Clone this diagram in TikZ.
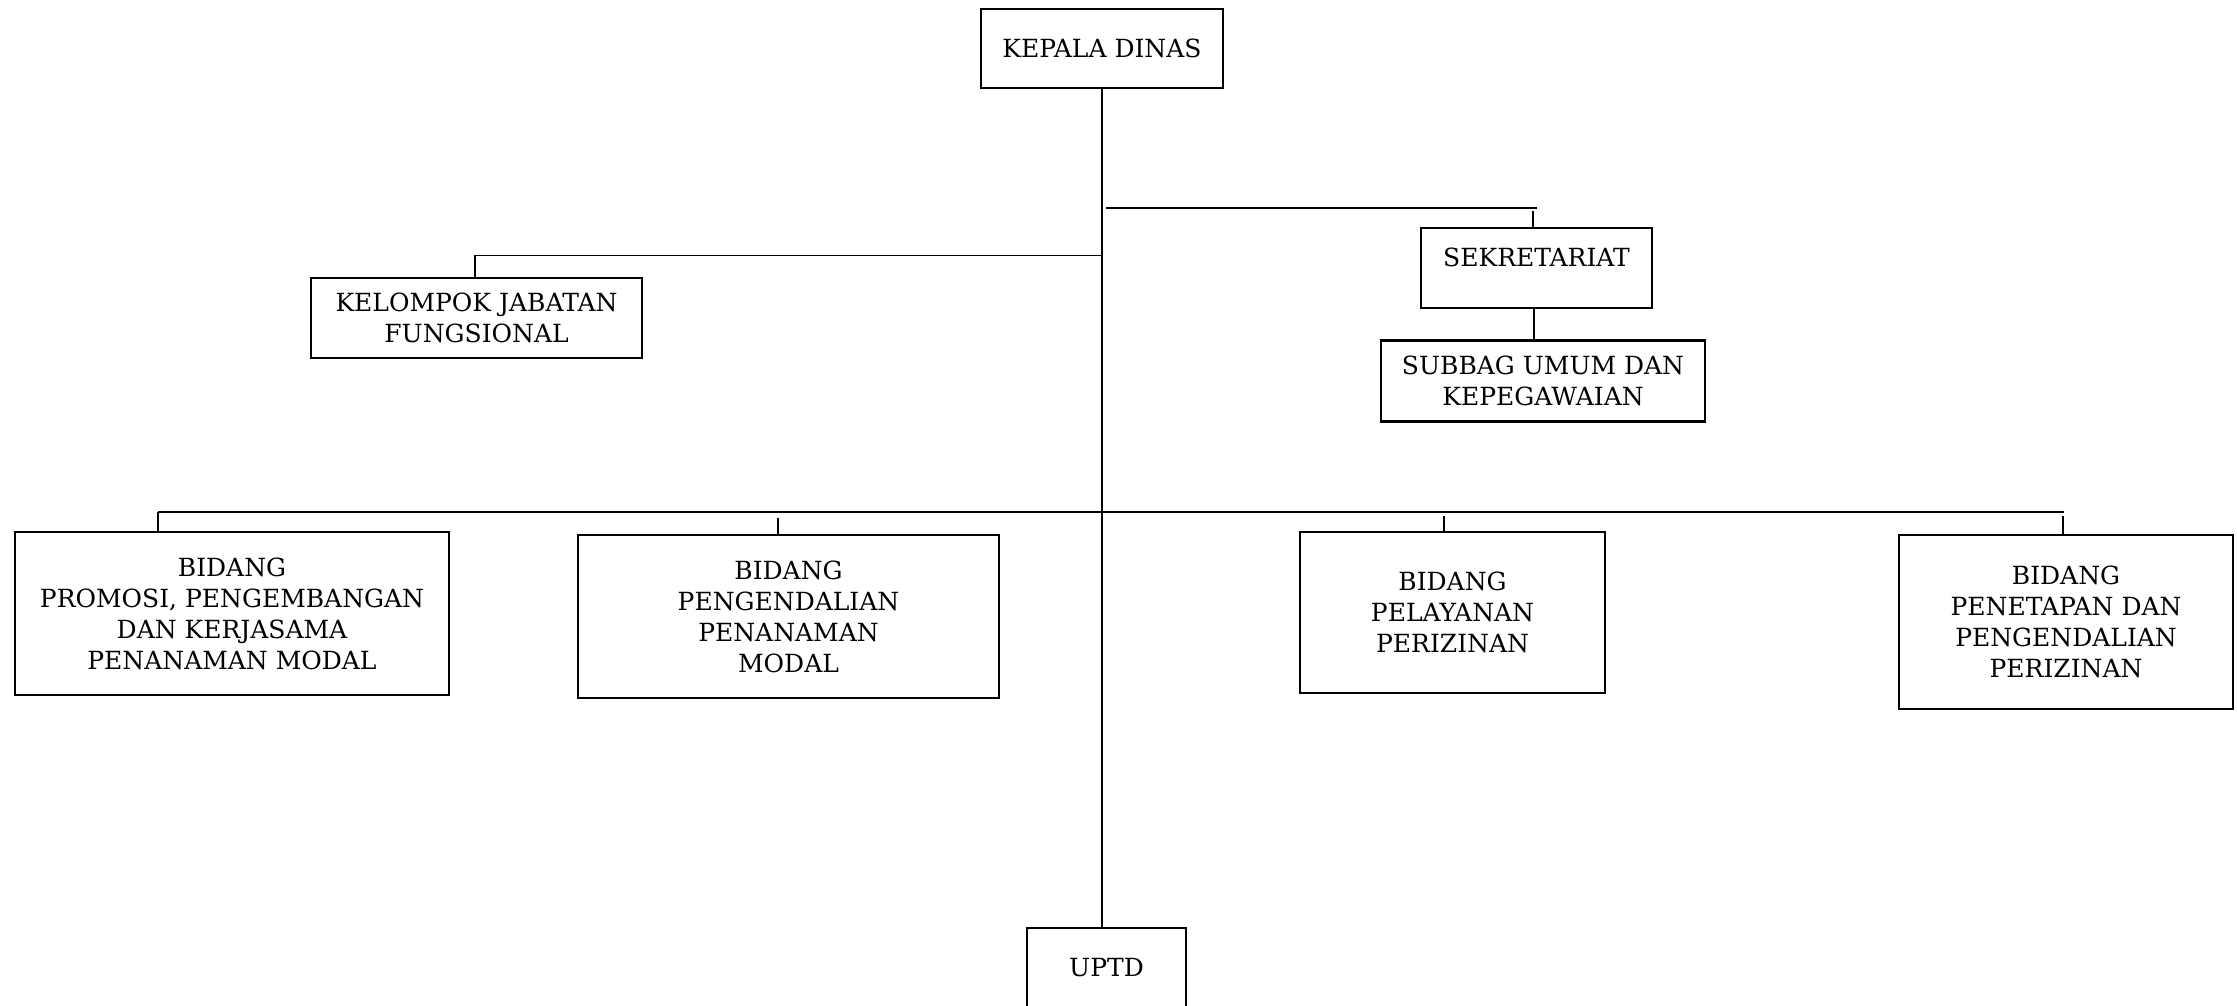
\documentclass[tikz,border=0pt]{standalone}
\usepackage{fontspec}
\setmainfont{DejaVu Serif}
\begin{document}
\begin{tikzpicture}[x=1pt,y=-1pt,
  orgbox/.style={draw,line width=2.2pt,align=center,inner sep=0pt,
    font=\fontsize{25}{31}\selectfont},
  conn/.style={line width=1.6pt},
  tick/.style={line width=1.1pt}]
\useasboundingbox[fill=white] (0,0) rectangle (2237,1006);
% boxes
\node[orgbox,minimum width=242,minimum height=79] (kd) at (1102,48.5) {KEPALA DINAS};
\node[orgbox,minimum width=231,minimum height=80,text depth=22pt] (sek) at (1536.5,268) {SEKRETARIAT};
\node[orgbox,minimum width=324,minimum height=81] (sub) at (1543,381) {SUBBAG UMUM DAN\\KEPEGAWAIAN};
\node[orgbox,minimum width=331,minimum height=80] (kjf) at (476.5,318) {KELOMPOK JABATAN\\FUNGSIONAL};
\node[orgbox,minimum width=434,minimum height=163] (b1) at (232,613.5) {BIDANG\\PROMOSI, PENGEMBANGAN\\DAN KERJASAMA\\PENANAMAN MODAL};
\node[orgbox,minimum width=421,minimum height=163] (b2) at (788.5,616.5) {BIDANG\\PENGENDALIAN\\PENANAMAN\\MODAL};
\node[orgbox,minimum width=305,minimum height=161] (b3) at (1452.5,612.5) {BIDANG\\PELAYANAN\\PERIZINAN};
\node[orgbox,minimum width=334,minimum height=174] (b4) at (2066,622) {BIDANG\\PENETAPAN DAN\\PENGENDALIAN\\PERIZINAN};
\node[orgbox,minimum width=159,minimum height=80] (uptd) at (1106.5,968) {UPTD};
% junction points
\coordinate (jsek) at (1106,208);
\coordinate (jsekr) at (1537,208);
\coordinate (jkjf) at (1102,255.5);
\coordinate (jb) at (1102,512);
\coordinate (jbl) at (158,512);
\coordinate (jbr) at (2064,512);
% trunk
\draw[conn] (kd.south) -- (kd.south |- uptd.north);
% sekretariat branch
\draw[conn] (jsek) -- (jsekr);
\draw[tick] (1533,211) -- (1533,0 |- sek.north);
\draw[tick] (1534,0 |- sek.south) -- (1534,0 |- sub.north);
% kelompok jabatan fungsional branch
\draw[conn] (jkjf) -- (475,255.5) -- (475,0 |- kjf.north);
% bidang bar
\draw[conn] (jbl) -- (jbr);
\draw[tick] (jbl) -- (158,0 |- b1.north);
\draw[tick] (778,518) -- (778,0 |- b2.north);
\draw[tick] (1444,516) -- (1444,0 |- b3.north);
\draw[tick] (2063,516) -- (2063,0 |- b4.north);
\end{tikzpicture}
\end{document}
